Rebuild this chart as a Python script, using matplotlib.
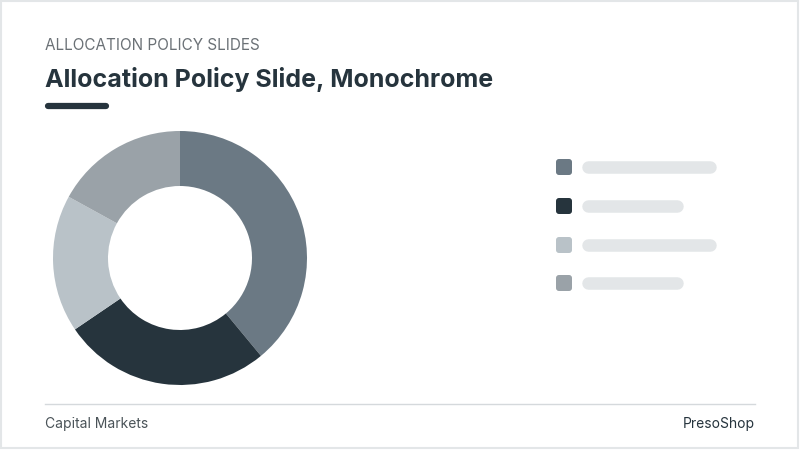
import matplotlib
matplotlib.use("Agg")
import matplotlib.pyplot as plt
from matplotlib.patches import FancyBboxPatch, Rectangle

values = [39, 26.5, 17.5, 17]
colors = ["#6b7984", "#26343d", "#b9c2c8", "#9aa2a8"]
legend_bar_lengths = [130, 97, 130, 97]

plt.rcParams['font.family'] = ['Inter', 'DejaVu Sans']
W, H = 800, 450
fig = plt.figure(figsize=(8, 4.5), dpi=100)
fig.patch.set_facecolor("white")
bg = fig.add_axes([0, 0, 1, 1])
bg.set_xlim(0, W); bg.set_ylim(H, 0); bg.axis("off")
bg.add_patch(Rectangle((1, 1), W - 3, H - 3, fill=False, ec="#e3e6e8", lw=1.5))
bg.text(45, 46, "ALLOCATION POLICY SLIDES", fontsize=11, color="#6b7176", va="center")
bg.text(45, 80, "Allocation Policy Slide, Monochrome", fontsize=18, fontweight="bold", color="#26343d", va="center")
bg.plot([48, 106], [106, 106], color="#26343d", lw=4.5, solid_capstyle="round")
bg.plot([45, 755], [404, 404], color="#d5d9dc", lw=1)
bg.text(45, 424, "Capital Markets", fontsize=10, color="#4a5358", va="center")
bg.text(755, 424, "PresoShop", fontsize=10, color="#26343d", va="center", ha="right")

ys = [167, 206, 245, 283]
for y, c, L in zip(ys, colors, legend_bar_lengths):
    bg.add_patch(FancyBboxPatch((556, y - 8), 16, 16, boxstyle="round,pad=0,rounding_size=3", fc=c, ec="none"))
    bg.plot([588, 584 + L - 4], [y, y], color="#e3e6e8", lw=9, solid_capstyle="round")

r = 127
ax = fig.add_axes([(180 - r) / W, 1 - (258 + r) / H, 2 * r / W, 2 * r / H])
ax.pie(values, colors=colors, startangle=90, counterclock=False,
       wedgeprops=dict(width=55 / 127, edgecolor="none"), radius=1)
ax.set_aspect("auto")
ax.set_xlim(-1, 1); ax.set_ylim(-1, 1)
fig.savefig("out.png", dpi=100)
